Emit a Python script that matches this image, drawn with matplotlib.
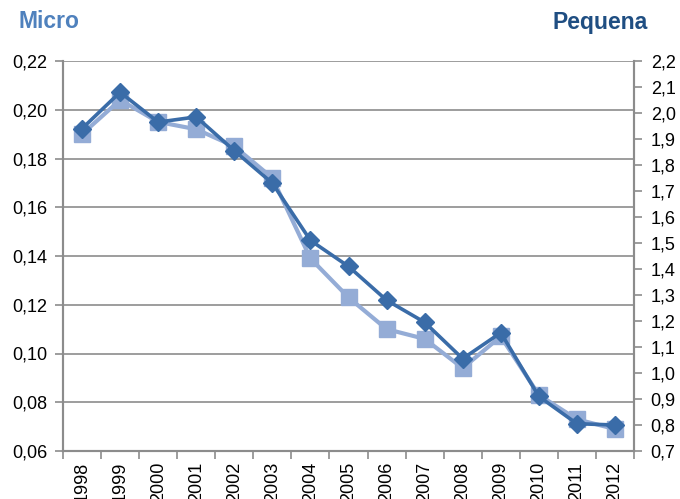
import matplotlib
matplotlib.use("Agg")
import matplotlib.pyplot as plt
from matplotlib.ticker import FixedLocator, FuncFormatter

plt.rcParams['font.family'] = ['Liberation Sans', 'DejaVu Sans']

years = ['1998', '1999', '2000', '2001', '2002', '2003', '2004', '2005',
         '2006', '2007', '2008', '2009', '2010', '2011', '2012']
micro = [0.190, 0.204, 0.195, 0.192, 0.185, 0.172, 0.139, 0.123,
         0.110, 0.106, 0.094, 0.107, 0.083, 0.073, 0.069]
pequena = [1.94, 2.08, 1.965, 1.985, 1.855, 1.73, 1.51, 1.41,
           1.28, 1.195, 1.055, 1.155, 0.91, 0.805, 0.80]

left_ticks = [0.06, 0.08, 0.10, 0.12, 0.14, 0.16, 0.18, 0.20, 0.22]
right_ticks = [0.7, 0.8, 0.9, 1.0, 1.1, 1.2, 1.3, 1.4, 1.5, 1.6, 1.7, 1.8,
               1.9, 2.0, 2.1, 2.2]

c_micro = '#94ACD6'
c_peq = '#3A6CA8'
grid_c = '#8C8C8C'

fig = plt.figure(figsize=(6.8, 4.99), dpi=100)
ax = fig.add_axes([63/680, 1 - 451/499, (634-63)/680, (451-61)/499])
ax2 = ax.twinx()

x = list(range(len(years)))
ax.plot(x, micro, color=c_micro, lw=3, marker='s', ms=11, zorder=3)
ax2.plot(x, pequena, color=c_peq, lw=2.6, marker='D', ms=9, zorder=4)

ax.set_xlim(-0.5, len(years) - 0.5)
ax.set_ylim(0.06, 0.22)
ax2.set_ylim(0.7, 2.2)

ax.yaxis.set_major_locator(FixedLocator(left_ticks))
ax.yaxis.set_major_formatter(FuncFormatter(lambda v, p: f"{v:.2f}".replace('.', ',')))
ax2.yaxis.set_major_locator(FixedLocator(right_ticks))
ax2.yaxis.set_major_formatter(FuncFormatter(lambda v, p: f"{v:.1f}".replace('.', ',')))

ax.set_xticks(x)
ax.set_xticklabels(years, rotation=90, fontsize=13)
ax.tick_params(axis='x', length=0, pad=8)
ax.set_xticks([i - 0.5 for i in range(len(years) + 1)], minor=True)
ax.tick_params(axis='x', which='minor', length=6, color=grid_c, width=1.2)

ax.tick_params(axis='y', length=6, color=grid_c, width=1.2, labelsize=13, pad=5)
ax2.tick_params(axis='y', length=6, color=grid_c, width=1.2, labelsize=13, pad=6)

ax.grid(axis='y', color=grid_c, lw=1.2)
ax.set_axisbelow(True)

for a in (ax, ax2):
    a.spines['top'].set_visible(False)
    for s in ('left', 'right', 'bottom'):
        a.spines[s].set_color(grid_c)
        a.spines[s].set_linewidth(1.5)

fig.text(18/680, 1 - 22/499, 'Micro', color='#4F81BD', fontsize=16.5,
         fontweight='bold', va='center', ha='left')
fig.text(648/680, 1 - 22/499, 'Pequena', color='#1F4E82', fontsize=16.5,
         fontweight='bold', va='center', ha='right')

fig.savefig('out.png', dpi=100)
